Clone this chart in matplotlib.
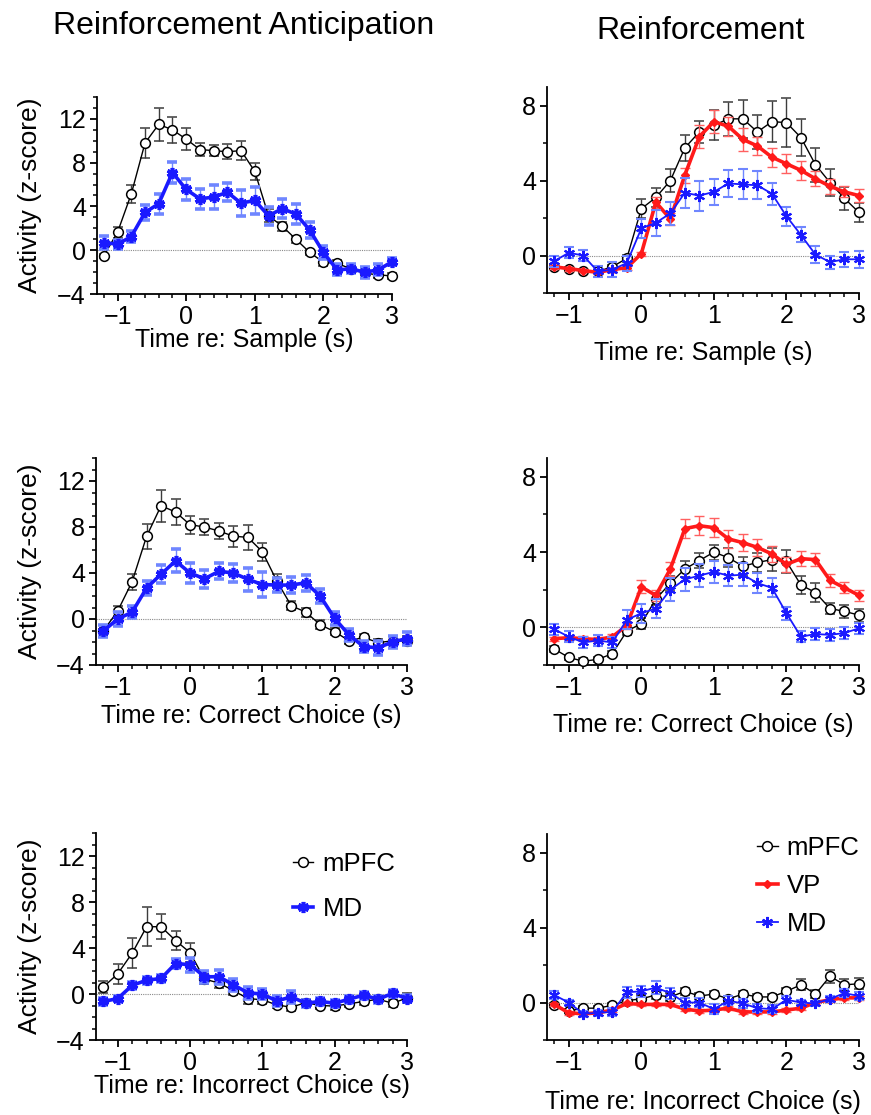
import matplotlib
matplotlib.use("Agg")
import matplotlib.pyplot as plt
from matplotlib.ticker import MultipleLocator

plt.rcParams["font.family"] = ["Liberation Sans", "DejaVu Sans"]

# time bins (s) shared by all panels
time_s = [-1.2, -1.0, -0.8, -0.6, -0.4, -0.2, 0.0, 0.2, 0.4, 0.6, 0.8,
          1.0, 1.2, 1.4, 1.6, 1.8, 2.0, 2.2, 2.4, 2.6, 2.8, 3.0]

# Reinforcement anticipation: sample
ant_sample_mpfc = [-0.5, 1.65, 5.15, 9.8, 11.5, 11.0, 10.15, 9.2, 9.1, 9.0, 9.1,
                   7.2, 3.15, 2.2, 1.0, -0.2, -1.1, -1.2, -1.7, -2.1, -2.25, -2.35]
ant_sample_mpfc_err = [0.2, 0.5, 0.8, 1.4, 1.5, 1.2, 1.0, 0.6, 0.5, 0.7, 0.9,
                       0.8, 0.6, 0.4, 0.3, 0.2, 0.3, 0.3, 0.3, 0.4, 0.3, 0.3]
ant_sample_md = [0.7, 0.55, 1.25, 3.45, 4.25, 7.1, 5.55, 4.7, 4.85, 5.3, 4.3,
                 4.55, 3.15, 3.8, 3.3, 1.85, -0.2, -1.8, -1.7, -2.0, -1.8, -1.05]
ant_sample_md_err = [0.6, 0.4, 0.5, 0.7, 0.9, 1.0, 1.0, 0.9, 1.1, 0.8, 1.2,
                     1.2, 0.8, 0.9, 0.9, 0.7, 0.6, 0.5, 0.4, 0.5, 0.5, 0.3]

# Reinforcement anticipation: correct choice
ant_correct_mpfc = [-1.05, 0.7, 3.25, 7.2, 9.85, 9.3, 8.2, 8.0, 7.65, 7.2, 7.1,
                    5.85, 3.3, 1.15, 0.6, -0.5, -1.1, -1.9, -1.6, -2.05, -1.9, -1.9]
ant_correct_mpfc_err = [0.2, 0.4, 0.7, 1.1, 1.4, 1.1, 0.8, 0.7, 0.7, 0.9, 1.1,
                        0.8, 0.6, 0.4, 0.4, 0.4, 0.3, 0.3, 0.3, 0.3, 0.4, 0.4]
ant_correct_md = [-1.05, 0.0, 0.6, 2.7, 3.9, 5.05, 4.0, 3.5, 4.15, 4.0, 3.45,
                  3.0, 2.95, 2.95, 3.15, 2.0, 0.05, -1.4, -2.4, -2.5, -2.0, -1.7]
ant_correct_md_err = [0.5, 0.6, 0.5, 0.6, 0.8, 1.0, 0.9, 0.8, 0.7, 0.8, 1.0,
                      1.1, 0.6, 0.7, 0.7, 0.6, 0.6, 0.5, 0.5, 0.6, 0.5, 0.6]

# Reinforcement anticipation: incorrect choice
ant_incorrect_mpfc = [0.6, 1.75, 3.55, 5.85, 5.85, 4.65, 3.6, 1.3, 0.95, 0.3, -0.4,
                      -0.5, -0.95, -1.15, -0.75, -1.0, -1.05, -0.85, -0.65, -0.45, -0.8, -0.35]
ant_incorrect_mpfc_err = [0.5, 0.9, 1.3, 1.7, 1.1, 0.8, 0.8, 0.4, 0.4, 0.4, 0.5,
                          0.4, 0.3, 0.3, 0.3, 0.3, 0.3, 0.3, 0.3, 0.3, 0.3, 0.4]
ant_incorrect_md = [-0.65, -0.4, 0.75, 1.2, 1.35, 2.65, 2.55, 1.5, 1.5, 0.8, 0.1,
                    0.0, -0.6, -0.25, -0.8, -0.65, -0.8, -0.45, -0.1, -0.45, 0.05, -0.4]
ant_incorrect_md_err = [0.3, 0.2, 0.3, 0.3, 0.3, 0.4, 0.6, 0.5, 0.6, 0.5, 0.5,
                        0.4, 0.4, 0.5, 0.3, 0.3, 0.3, 0.3, 0.3, 0.3, 0.3, 0.3]

# Reinforcement: sample
rein_sample_mpfc = [-0.6, -0.7, -0.8, -0.85, -0.6, -0.15, 2.5, 3.1, 4.0, 5.75, 6.6,
                    6.95, 7.3, 7.3, 6.6, 7.15, 7.1, 6.3, 4.85, 3.9, 3.05, 2.3]
rein_sample_mpfc_err = [0.1, 0.1, 0.1, 0.1, 0.1, 0.2, 0.5, 0.5, 0.6, 0.7, 0.6,
                        0.8, 0.9, 1.0, 0.9, 1.1, 1.3, 1.0, 0.9, 0.7, 0.6, 0.5]
rein_sample_vp = [-0.6, -0.7, -0.8, -0.9, -0.75, -0.65, 0.1, 2.85, 1.95, 4.3, 6.35,
                  7.15, 6.9, 6.2, 5.85, 5.25, 4.9, 4.55, 4.1, 3.7, 3.4, 3.2]
rein_sample_vp_err = [0.1, 0.1, 0.1, 0.1, 0.1, 0.1, 0.1, 0.3, 0.3, 0.4, 0.6,
                      0.6, 0.5, 0.6, 0.5, 0.5, 0.5, 0.5, 0.4, 0.4, 0.3, 0.35]
rein_sample_md = [-0.3, 0.15, 0.0, -0.85, -0.75, -0.4, 1.45, 1.75, 2.25, 3.35, 3.2,
                  3.4, 3.85, 3.8, 3.75, 3.3, 2.1, 1.1, 0.05, -0.35, -0.2, -0.2]
rein_sample_md_err = [0.3, 0.3, 0.3, 0.3, 0.4, 0.4, 0.5, 0.7, 0.6, 0.8, 0.8,
                      0.7, 0.7, 0.8, 0.75, 0.6, 0.5, 0.4, 0.45, 0.35, 0.4, 0.45]

# Reinforcement: correct choice
rein_correct_mpfc = [-1.15, -1.6, -1.8, -1.7, -1.4, -0.2, 0.2, 1.5, 2.35, 3.1, 3.55,
                     4.0, 3.7, 3.25, 3.45, 3.6, 3.5, 2.25, 1.85, 1.0, 0.85, 0.65]
rein_correct_mpfc_err = [0.15, 0.15, 0.15, 0.15, 0.15, 0.2, 0.3, 0.3, 0.4, 0.4, 0.4,
                         0.4, 0.5, 0.5, 0.5, 0.6, 0.6, 0.5, 0.5, 0.3, 0.35, 0.35]
rein_correct_vp = [-0.6, -0.55, -0.6, -0.65, -0.5, 0.1, 2.15, 1.7, 3.1, 5.25, 5.4,
                   5.3, 4.7, 4.5, 4.25, 3.9, 3.35, 3.65, 3.6, 2.5, 2.1, 1.7]
rein_correct_vp_err = [0.1, 0.1, 0.15, 0.15, 0.15, 0.2, 0.35, 0.3, 0.35, 0.5, 0.5,
                       0.5, 0.5, 0.45, 0.45, 0.45, 0.4, 0.4, 0.35, 0.35, 0.3, 0.3]
rein_correct_md = [-0.1, -0.5, -0.8, -0.7, -0.8, 0.4, 0.75, 1.0, 2.0, 2.55, 2.75,
                   2.95, 2.75, 2.8, 2.35, 2.1, 0.75, -0.5, -0.35, -0.4, -0.3, -0.05]
rein_correct_md_err = [0.3, 0.3, 0.3, 0.3, 0.3, 0.5, 0.5, 0.5, 0.6, 0.6, 0.6,
                       0.6, 0.55, 0.6, 0.55, 0.5, 0.35, 0.3, 0.3, 0.3, 0.3, 0.3]

# Reinforcement: incorrect choice
rein_incorrect_mpfc = [-0.15, -0.45, -0.3, -0.3, -0.15, 0.1, 0.2, 0.4, 0.3, 0.6, 0.35,
                       0.45, 0.2, 0.45, 0.3, 0.3, 0.6, 0.95, 0.45, 1.4, 0.95, 1.0]
rein_incorrect_mpfc_err = [0.1, 0.1, 0.1, 0.1, 0.1, 0.15, 0.2, 0.2, 0.2, 0.2, 0.15,
                           0.15, 0.15, 0.15, 0.15, 0.15, 0.2, 0.3, 0.2, 0.35, 0.3, 0.3]
rein_incorrect_vp = [-0.1, -0.55, -0.6, -0.55, -0.4, -0.05, -0.1, -0.1, -0.1, -0.35, -0.45,
                     -0.4, -0.3, -0.5, -0.5, -0.5, -0.4, -0.3, 0.0, 0.15, 0.25, 0.25]
rein_incorrect_vp_err = [0.1, 0.1, 0.1, 0.1, 0.1, 0.1, 0.1, 0.1, 0.1, 0.1, 0.1,
                         0.1, 0.1, 0.1, 0.1, 0.1, 0.1, 0.1, 0.1, 0.1, 0.1, 0.1]
rein_incorrect_md = [0.4, 0.0, -0.6, -0.55, -0.5, 0.55, 0.6, 0.8, 0.5, 0.0, 0.0,
                     -0.35, 0.1, -0.05, -0.3, -0.35, 0.15, 0.0, -0.05, 0.2, 0.5, 0.35]
rein_incorrect_md_err = [0.2, 0.15, 0.15, 0.15, 0.2, 0.3, 0.3, 0.35, 0.3, 0.25, 0.25,
                         0.25, 0.25, 0.25, 0.2, 0.2, 0.2, 0.15, 0.15, 0.15, 0.2, 0.2]

W, H = 871, 1115
fig = plt.figure(figsize=(W / 100, H / 100), dpi=100)

BLACK = "black"
BLUE = "#1a1aff"
RED = "#ff1a1a"
FS = 18


def add_panel(x0, y_top, x1, y_bot):
    # pixel box (from top-left) -> figure fraction
    return fig.add_axes([x0 / W, 1 - y_bot / H, (x1 - x0) / W, (y_bot - y_top) / H])


def trace(ax, y, err, color, ecolor, label, **kw):
    c = ax.errorbar(time_s, y, yerr=err, color=color, ecolor=ecolor, elinewidth=1.0,
                    capsize=3.5, capthick=1.0, label=label, **kw)
    for art in c.get_children():
        art.set_clip_on(False)
    return c


def style(ax, ylim, ymajor, yminor, xlabel, xlabel_y):
    ax.set_xlim(-1.3, 3.0)
    ax.set_ylim(*ylim)
    ax.axhline(0, color="#8a8a8a", lw=0.8, ls=(0, (1, 1)), zorder=0)
    for s in ("top", "right"):
        ax.spines[s].set_visible(False)
    for s in ("left", "bottom"):
        ax.spines[s].set_linewidth(1.3)
    ax.xaxis.set_major_locator(MultipleLocator(1))
    ax.xaxis.set_minor_locator(MultipleLocator(0.2))
    ax.yaxis.set_major_locator(MultipleLocator(ymajor))
    ax.yaxis.set_minor_locator(MultipleLocator(yminor))
    ax.tick_params(which="major", direction="out", length=5, width=1.3, labelsize=FS, pad=3)
    ax.tick_params(which="minor", direction="out", length=3, width=1.1)
    ax.set_xlabel(xlabel, fontsize=FS, va="center")
    bb = ax.get_position()
    ax.xaxis.set_label_coords(0.5, -(xlabel_y - (1 - bb.y0) * H) / (bb.height * H))


def left_panel(ax, mpfc, mpfc_err, md, md_err):
    trace(ax, mpfc, mpfc_err, BLACK, "#3c3c3c", "mPFC", lw=1.0, marker="o", ms=7,
          mfc="white", mec=BLACK, mew=1.1, zorder=3)
    trace(ax, md, md_err, BLUE, "#6f86ff", "MD", lw=2.6, marker=(6, 2, 0), ms=8,
          mec=BLUE, mew=2.6, zorder=4)
    bb = ax.get_position()
    ax.set_ylabel("Activity (z-score)", fontsize=FS + 1, va="center")
    ax.yaxis.set_label_coords(-(bb.x0 * W - 30) / (bb.width * W), 0.5)


def right_panel(ax, mpfc, mpfc_err, vp, vp_err, md, md_err):
    trace(ax, mpfc, mpfc_err, BLACK, "#3c3c3c", "mPFC", lw=1.0, marker="o", ms=7,
          mfc="white", mec=BLACK, mew=1.1, zorder=3)
    trace(ax, vp, vp_err, RED, "#ff6060", "VP", lw=2.6, marker="D", ms=4,
          mec=RED, zorder=4)
    trace(ax, md, md_err, BLUE, "#6f86ff", "MD", lw=1.3, marker=(6, 2, 0), ms=8,
          mec=BLUE, mew=1.5, zorder=5)


def panel_legend(ax, anchor, spacing):
    h, l = ax.get_legend_handles_labels()
    h = [hh[0] for hh in h]
    ax.legend(h, l, loc="upper left", bbox_to_anchor=anchor, frameon=False,
              fontsize=FS + 0.5, handlelength=0.8, handletextpad=0.35,
              labelspacing=spacing, borderaxespad=0)


ax1 = add_panel(97, 97, 392, 294)
ax3 = add_panel(96, 458, 407, 665)
ax5 = add_panel(96, 833, 407, 1040)
ax2 = add_panel(547, 87, 859, 293)
ax4 = add_panel(547, 458, 859, 665)
ax6 = add_panel(547, 834, 859, 1040)

left_panel(ax1, ant_sample_mpfc, ant_sample_mpfc_err, ant_sample_md, ant_sample_md_err)
left_panel(ax3, ant_correct_mpfc, ant_correct_mpfc_err, ant_correct_md, ant_correct_md_err)
left_panel(ax5, ant_incorrect_mpfc, ant_incorrect_mpfc_err, ant_incorrect_md, ant_incorrect_md_err)
right_panel(ax2, rein_sample_mpfc, rein_sample_mpfc_err, rein_sample_vp, rein_sample_vp_err,
            rein_sample_md, rein_sample_md_err)
right_panel(ax4, rein_correct_mpfc, rein_correct_mpfc_err, rein_correct_vp, rein_correct_vp_err,
            rein_correct_md, rein_correct_md_err)
right_panel(ax6, rein_incorrect_mpfc, rein_incorrect_mpfc_err, rein_incorrect_vp,
            rein_incorrect_vp_err, rein_incorrect_md, rein_incorrect_md_err)

style(ax1, (-4, 14), 4, 1, "Time re: Sample (s)", 340)
style(ax3, (-4, 14), 4, 1, "Time re: Correct Choice (s)", 716)
style(ax5, (-4, 14), 4, 1, "Time re: Incorrect Choice (s)", 1086)
style(ax2, (-2, 9), 4, 2, "Time re: Sample (s)", 353)
style(ax4, (-2, 9), 4, 2, "Time re: Correct Choice (s)", 725)
style(ax6, (-2, 9), 4, 2, "Time re: Incorrect Choice (s)", 1102)

panel_legend(ax5, (0.6, 0.96), 0.85)
panel_legend(ax6, (0.64, 1.04), 0.55)

fig.text(244 / W, 1 - 26 / H, "Reinforcement Anticipation", fontsize=23, ha="center", va="center")
fig.text(701 / W, 1 - 31 / H, "Reinforcement", fontsize=23, ha="center", va="center")

fig.savefig("out.png", dpi=100)
